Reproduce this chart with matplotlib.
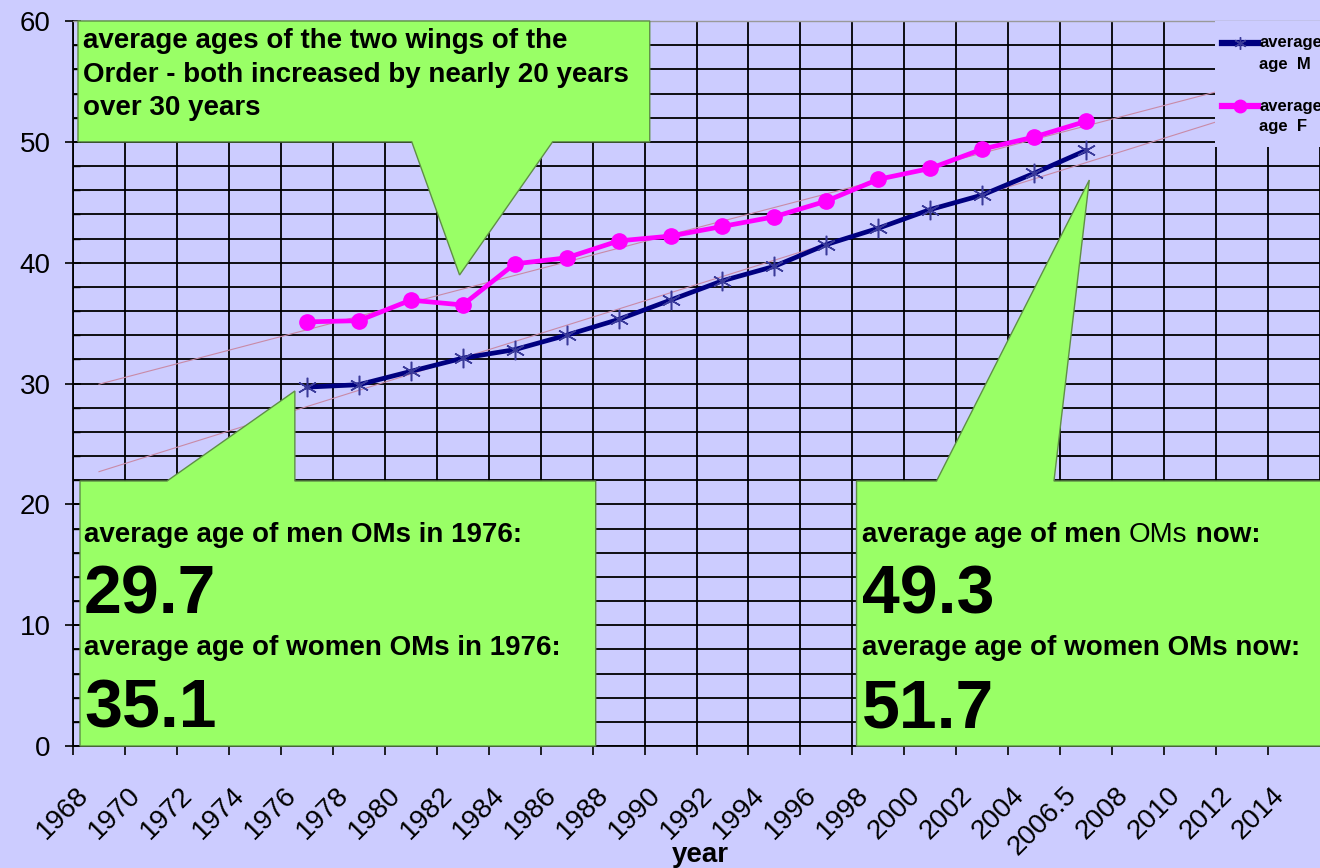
import matplotlib
matplotlib.use("Agg")
import numpy as np
import matplotlib.pyplot as plt
import matplotlib.transforms as mtrans
from matplotlib.patches import Polygon, Rectangle
from matplotlib.lines import Line2D

plt.rcParams['font.family'] = ['Liberation Sans', 'DejaVu Sans']

# ---------------- Data ----------------
tick_labels = ['1968', '1970', '1972', '1974', '1976', '1978', '1980', '1982',
               '1984', '1986', '1988', '1990', '1992', '1994', '1996', '1998',
               '2000', '2002', '2004', '2006.5', '2008', '2010', '2012', '2014']
data_years = ['1976', '1978', '1980', '1982', '1984', '1986', '1988', '1990',
              '1992', '1994', '1996', '1998', '2000', '2002', '2004', '2006.5']
age_m = [29.7, 29.9, 31.0, 32.1, 32.8, 34.0, 35.3, 36.9,
         38.5, 39.7, 41.5, 42.85, 44.4, 45.6, 47.4, 49.3]
age_f = [35.1, 35.2, 36.9, 36.5, 39.9, 40.4, 41.8, 42.2,
         43.0, 43.8, 45.1, 46.9, 47.8, 49.4, 50.4, 51.7]
label_m = ["average", "age  M"]
label_f = ["average", "age  F"]

# ---------------- Style ----------------
BG = "#ccccff"
GREEN = "#99ff66"
GREEN_EDGE = "#5f8f46"
NAVY = "#000080"
MAGENTA = "#ff00ff"
TREND = "#c98aa6"
STAR = (6, 2, 0)

W, H = 1320, 868
fig = plt.figure(figsize=(W / 100, H / 100), dpi=100, facecolor=BG)
ax = fig.add_axes([73 / W, 1 - 746 / H, 1 - 73 / W, (746 - 21) / H])
ax.set_facecolor(BG)


def fpos(px, py):
    return px / W, 1 - py / H


x_pos = np.array([tick_labels.index(y) + 0.5 for y in data_years])

# --- axes + grid ---
ax.set_xlim(0, (W - 73) / 52)
ax.set_ylim(0, 60)
ax.set_xticks(np.arange(len(tick_labels)))
ax.set_xticklabels(tick_labels)
ax.set_xticks(np.arange(len(tick_labels) + 1), minor=True)
ax.set_yticks(np.arange(0, 61, 10))
ax.set_yticks(np.arange(0, 61, 2), minor=True)
ax.grid(True, which='both', color='black', lw=1.3, zorder=1)
ax.set_axisbelow(True)

ax.spines['right'].set_visible(False)
ax.spines['top'].set_color('#999999')
ax.spines['top'].set_linewidth(1.0)
ax.spines['left'].set_linewidth(1.3)
ax.spines['bottom'].set_linewidth(1.3)

ax.tick_params(axis='y', which='major', direction='inout', length=12, width=1.2,
               labelsize=20, pad=10)
ax.tick_params(axis='y', which='minor', direction='in', length=5, width=1.0)
ax.tick_params(axis='x', which='major', direction='out', length=6.5, width=1.2,
               labelsize=20, pad=0)
ax.tick_params(axis='x', which='minor', length=0)
off = mtrans.ScaledTranslation(0.12, -0.36, fig.dpi_scale_trans)
for lab in ax.get_xticklabels():
    lab.set_rotation(45)
    lab.set_ha('right')
    lab.set_va('center')
    lab.set_rotation_mode('anchor')
    lab.set_transform(lab.get_transform() + off)

# --- linear trend lines ---
xt = np.array([0.5, 22.0])
for vals in (age_m, age_f):
    k, b = np.polyfit(x_pos, vals, 1)
    ax.plot(xt, k * xt + b, color=TREND, lw=0.8, zorder=2)

# --- callouts (shapes in data units) ---
callouts = [
    [(0.096, 60), (11.10, 60), (11.10, 50), (9.23, 50), (7.44, 38.98),
     (6.52, 50), (0.096, 50)],
    [(0.135, 0), (0.135, 21.93), (1.81, 21.93), (4.27, 29.38), (4.27, 21.93),
     (10.06, 21.93), (10.06, 0)],
    [(15.08, 0), (15.08, 21.93), (16.62, 21.93), (19.56, 46.84), (18.88, 21.93),
     (24.5, 21.93), (24.5, 0)],
]
for pts in callouts:
    ax.add_patch(Polygon(pts, closed=True, facecolor=GREEN, edgecolor=GREEN_EDGE,
                         lw=1.0, zorder=3, clip_on=False))

# --- series ---
ax.plot(x_pos, age_m, color=NAVY, lw=3.4, zorder=5, solid_capstyle='round')
ax.plot(x_pos, age_m, ls='none', marker=STAR, ms=14, mew=1.1,
        mec='#3a3a9a', zorder=6)
ax.plot(x_pos, age_f, color=MAGENTA, lw=3.4, marker='o', ms=11, mfc=MAGENTA,
        mec=MAGENTA, zorder=5)

# --- legend (drawn by hand, lavender block over the grid) ---
fig.add_artist(Rectangle(fpos(1215, 147), 105 / W, 126 / H, transform=fig.transFigure,
                         facecolor=BG, edgecolor='none', zorder=7))
for ly, lbl, kw in [(43, label_m, dict(color=NAVY, marker=STAR, ms=9, mew=1, mec='#3a3a9a')),
                    (106, label_f, dict(color=MAGENTA, marker='o', ms=9))]:
    fig.add_artist(Line2D([1222 / W, 1258 / W], [1 - ly / H] * 2, lw=4.5,
                          transform=fig.transFigure, zorder=8, markevery=[], **kw))
    fig.add_artist(Line2D([1240 / W], [1 - ly / H], ls='none',
                          transform=fig.transFigure, zorder=9, **kw))
    fig.text(*fpos(1259, ly), lbl[0], fontsize=12, fontweight='bold', va='center',
             zorder=9)
    fig.text(*fpos(1259, ly + 21), lbl[1], fontsize=12, fontweight='bold', va='center',
             zorder=9)

# --- callout texts ---
top_lines = ["average ages of the two wings of the",
             "Order - both increased by nearly 20 years",
             "over 30 years"]
for line, by in zip(top_lines, [48, 82, 115]):
    fig.text(*fpos(83, by), line, fontsize=20, fontweight='bold', va='baseline',
             zorder=10)

fig.text(*fpos(84, 542), "average age of men OMs in 1976:", fontsize=20,
         fontweight='bold', va='baseline')
fig.text(*fpos(84, 613), f"{age_m[0]:.1f}", fontsize=49, fontweight='bold',
         va='baseline')
fig.text(*fpos(84, 655), "average age of women OMs in 1976:", fontsize=20,
         fontweight='bold', va='baseline')
fig.text(*fpos(84, 727), f"{age_f[0]:.1f}", fontsize=49, fontweight='bold',
         va='baseline')

renderer = fig.canvas.get_renderer()
xcur = 862
for part, wt in [("average age of men ", 'bold'), ("OMs", 'normal'), (" now:", 'bold')]:
    t = fig.text(*fpos(xcur, 542), part, fontsize=20, fontweight=wt, va='baseline')
    xcur = t.get_window_extent(renderer).x1
fig.text(*fpos(862, 613), f"{age_m[-1]:.1f}", fontsize=49, fontweight='bold',
         va='baseline')
fig.text(*fpos(862, 655), "average age of women OMs now:", fontsize=20,
         fontweight='bold', va='baseline')
fig.text(*fpos(862, 727), f"{age_f[-1]:.1f}", fontsize=49, fontweight='bold',
         va='baseline')

fig.text(*fpos(700, 862), "year", fontsize=20, fontweight='bold', ha='center',
         va='baseline')

fig.savefig("out.png", dpi=100, facecolor=BG)
